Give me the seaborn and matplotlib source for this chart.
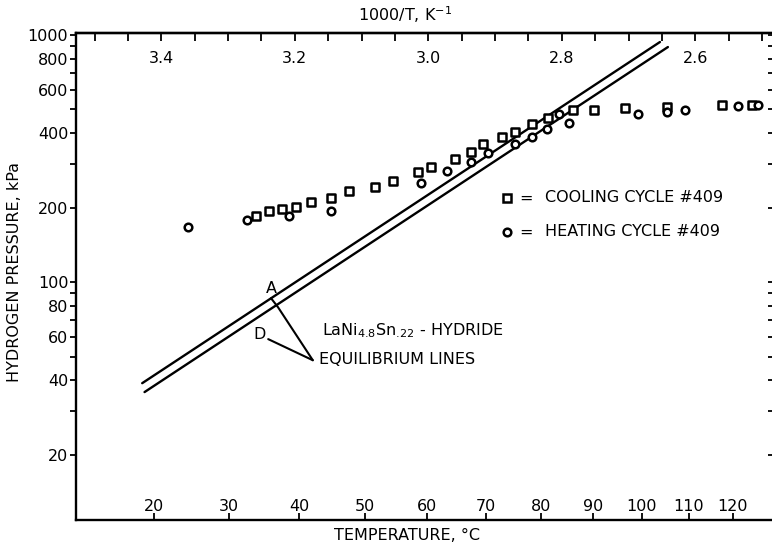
import numpy as np
import pandas as pd
import matplotlib
matplotlib.use("Agg")
import matplotlib.pyplot as plt
from matplotlib.ticker import FixedLocator, NullFormatter, FixedFormatter
import seaborn as sns

# Cooling cycle #409: temperature (°C) and hydrogen pressure (kPa)
cool_temp = [33.7, 35.6, 37.5, 39.5, 41.7, 44.7, 47.5, 51.6, 54.4, 58.5, 60.6, 64.7,
             67.4, 69.5, 72.9, 75.2, 78.3, 81.3, 86.2, 90.2, 96.6, 105.2, 117.4, 124.4]
cool_pres = [185, 194, 198, 201, 211, 219, 234, 243, 256, 280, 293, 315,
             337, 361, 388, 406, 435, 463, 497, 497, 505, 509, 521, 521]

# Heating cycle #409
heat_temp = [24.5, 32.5, 38.5, 44.7, 59.0, 63.4, 67.4, 70.5, 75.2, 78.3, 81.1, 83.4,
             85.3, 99.2, 105.2, 109.2, 121.1, 125.9]
heat_pres = [167, 178, 185, 194, 251, 281, 307, 332, 362, 388, 415, 478,
             439, 479, 490, 497, 516, 521]

# Equilibrium lines (absorption A, desorption D): end points
eq_a_temp = [18.5, 103.8]
eq_a_pres = [39.0, 937.0]
eq_d_temp = [18.8, 105.5]
eq_d_pres = [35.9, 894.0]

# Axis ticks
temp_ticks = [20, 30, 40, 50, 60, 70, 80, 90, 100, 110, 120]
recip_ticks = [3.4, 3.2, 3.0, 2.8, 2.6]
recip_minor = [round(2.5 + 0.05 * i, 2) for i in range(21)]
pres_major = [20, 40, 60, 80, 100, 200, 400, 600, 800, 1000]
pres_minor = [30, 50, 70, 90, 300, 500, 700, 900]


def recip(t):
    """1000/T in K^-1 for temperatures in °C."""
    return 1000.0 / (np.asarray(t, dtype=float) + 273.15)


cool = pd.DataFrame({"x": recip(cool_temp), "p": cool_pres})
heat = pd.DataFrame({"x": recip(heat_temp), "p": heat_pres})
line_a = pd.DataFrame({"x": recip(eq_a_temp), "p": eq_a_pres})
line_d = pd.DataFrame({"x": recip(eq_d_temp), "p": eq_d_pres})

sns.set_theme(style="white")
ink = "black"
plt.rcParams["font.family"] = ["DejaVu Sans"]
plt.rcParams["text.color"] = ink
plt.rcParams["axes.labelcolor"] = ink
FS = 11.5
W, H = 772, 547

fig = plt.figure(figsize=(W / 100, H / 100), dpi=100)
ax = fig.add_axes([76 / W, (H - 520) / H, (775 - 76) / W, (520 - 33) / H])
ax.set_facecolor("white")

sns.lineplot(data=line_a, x="x", y="p", ax=ax, color=ink, lw=1.7, sort=False)
sns.lineplot(data=line_d, x="x", y="p", ax=ax, color=ink, lw=1.7, sort=False)

mk = dict(color="white", edgecolor=ink, linewidth=1.8, s=30, zorder=5, legend=False)
sns.scatterplot(data=cool, x="x", y="p", marker="s", ax=ax, **mk)
sns.scatterplot(data=heat, x="x", y="p", marker="o", ax=ax, **mk)

ax.set_yscale("log")
ax.set_xlim(recip(10.3), recip(130.0))
ax.set_ylim(10.9, 1019)

# Left axis: log pressure
ax.yaxis.set_major_locator(FixedLocator(pres_major))
ax.yaxis.set_major_formatter(FixedFormatter([str(v) for v in pres_major]))
ax.yaxis.set_minor_locator(FixedLocator(pres_minor))
ax.yaxis.set_minor_formatter(NullFormatter())
ax.tick_params(axis="y", which="both", left=True, right=False, direction="out",
               length=4.5, width=1.3, pad=1, labelsize=FS, colors=ink)

# Right edge: inward ticks only
right = ax.secondary_yaxis("right")
right.yaxis.set_major_locator(FixedLocator(pres_major + pres_minor))
right.yaxis.set_major_formatter(NullFormatter())
right.yaxis.set_minor_locator(FixedLocator([]))
right.tick_params(axis="y", which="both", direction="in", length=5, width=1.3, colors=ink)
right.spines["right"].set_visible(False)

# Bottom axis: temperature labels placed at 1000/T positions
ax.xaxis.set_major_locator(FixedLocator(recip(temp_ticks)))
ax.xaxis.set_major_formatter(FixedFormatter([str(t) for t in temp_ticks]))
ax.xaxis.set_minor_locator(FixedLocator([]))
ax.tick_params(axis="x", which="both", bottom=True, top=False, direction="in",
               length=5, width=1.3, pad=-15, labelsize=FS, colors=ink)

# Top axis: 1000/T
top = ax.secondary_xaxis("top")
top.xaxis.set_major_locator(FixedLocator(recip_ticks))
top.xaxis.set_major_formatter(FixedFormatter([f"{v:.1f}" for v in recip_ticks]))
top.xaxis.set_minor_locator(FixedLocator(recip_minor))
top.tick_params(axis="x", which="both", direction="in", length=6, width=1.3,
                pad=-24, labelsize=FS, colors=ink)
top.spines["top"].set_linewidth(1.7)

for side in ["left", "bottom", "top"]:
    ax.spines[side].set_linewidth(1.7)
    ax.spines[side].set_color(ink)
ax.spines["right"].set_visible(False)
ax.set_xlabel("")
ax.set_ylabel("")

# Axis titles
fig.text(405 / W, 1 - 15 / H, "1000/T, K$^{-1}$", ha="center", va="center", fontsize=FS)
fig.text(407 / W, 1 - 535 / H, "TEMPERATURE, °C", ha="center", va="center", fontsize=FS)
fig.text(15 / W, 1 - 272 / H, "HYDROGEN PRESSURE, kPa", rotation=90,
         ha="center", va="center", fontsize=FS)

# Legend entries
fig_pt = lambda x, y: (x / W, 1 - y / H)
for y, m, label in [(198, "s", "COOLING CYCLE #409"), (232, "o", "HEATING CYCLE #409")]:
    fx, fy = fig_pt(507, y)
    fig.lines.append(plt.Line2D([fx], [fy], marker=m, ms=5.5, mfc="white", mec=ink,
                                mew=1.8, transform=fig.transFigure, figure=fig))
    fig.text(*fig_pt(526, y), "=", ha="center", va="center", fontsize=FS)
    fig.text(*fig_pt(545, y), label, ha="left", va="center", fontsize=FS)

# Labels and leaders for the equilibrium lines
ax.text(recip(36.0), 94.6, "A", ha="center", va="center", fontsize=FS)
ax.text(recip(34.3), 61.6, "D", ha="center", va="center", fontsize=FS)
ax.plot(recip([35.9, 36.9, 42.0]), [86.1, 79.2, 48.3], color=ink, lw=1.5)
ax.plot(recip([35.5, 42.0]), [58.8, 48.3], color=ink, lw=1.5)
fig.text(*fig_pt(322, 331), r"LaNi$_{\mathregular{4.8}}$Sn$_{\mathregular{.\!22}}$ - HYDRIDE",
         ha="left", va="center", fontsize=FS)
fig.text(*fig_pt(319, 359), "EQUILIBRIUM LINES", ha="left", va="center", fontsize=FS)

fig.savefig("out.png", dpi=100, facecolor="white")
